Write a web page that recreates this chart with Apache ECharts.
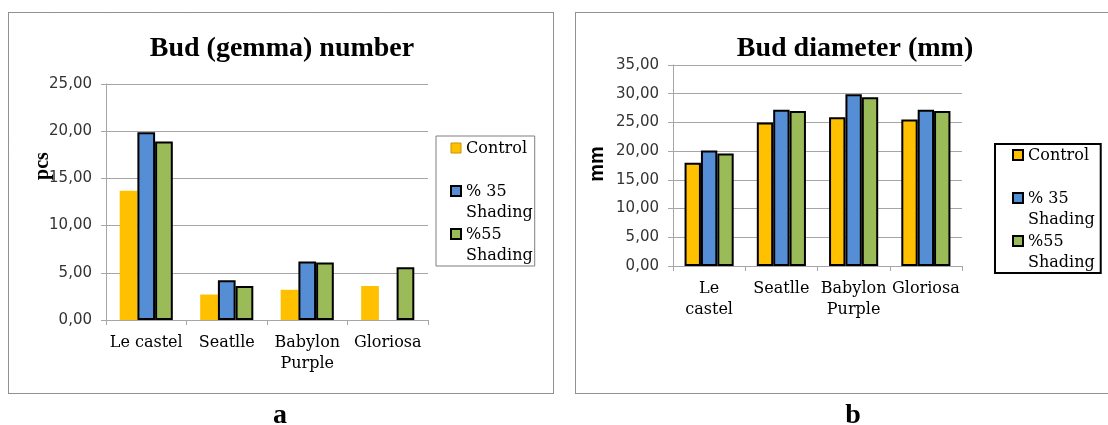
<!DOCTYPE html>
<html>
<head>
<meta charset="utf-8">
<script src="https://cdn.jsdelivr.net/npm/echarts@6/dist/echarts.min.js"></script>
<style>
  html, body { margin: 0; padding: 0; background: #fff; }
  #chart { width: 1108px; height: 425px; }
</style>
</head>
<body>
<div id="chart"></div>
<script>
// categories and values
var categories = ['Le castel', 'Seatlle', 'Babylon Purple', 'Gloriosa'];
var seriesNames = ['Control', '% 35 Shading', '%55 Shading'];

var budNumberControl = [13.7, 2.7, 3.2, 3.6];
var budNumber35 = [19.9, 4.2, 6.2, 0];
var budNumber55 = [18.9, 3.6, 6.1, 5.6];

var budDiameterControl = [18.0, 25.0, 25.9, 25.5];
var budDiameter35 = [20.1, 27.2, 29.9, 27.2];
var budDiameter55 = [19.6, 27.0, 29.4, 27.0];

var numberAxis = { min: 0, max: 25, step: 5 };
var diameterAxis = { min: 0, max: 35, step: 5 };

var COLORS = ['#FFC000', '#558ED5', '#9BBB59'];
// square on top, empty space below so the icon lines up with the first text line
var ICON = 'path://M0,0h10v10h-10z M0,32';

function comma(v) { return Number(v).toFixed(2).replace('.', ','); }

function barData(values) {
  return values.map(function (v) {
    return v === 0 ? { value: v, itemStyle: { borderWidth: 0 } } : v;
  });
}

function bars(idx, values, i, border) {
  return {
    type: 'bar', name: seriesNames[i],
    xAxisIndex: idx, yAxisIndex: idx,
    data: barData(values),
    barGap: '0%', barCategoryGap: idx === 0 ? '34%' : '32%',
    itemStyle: { color: COLORS[i], borderColor: '#000', borderWidth: border },
    emphasis: { disabled: true }
  };
}

function legendNames(name) {
  if (name === 'Control') return 'Control\n ';
  return name.replace(' Shading', '\nShading');
}

var gridLine = '#a6a6a6';
var tickFont = { color: '#333', fontFamily: 'DejaVu Sans', fontSize: 15 };
var catFont = { color: '#000', fontFamily: 'DejaVu Serif', fontSize: 16, lineHeight: 21 };
var legendFont = { color: '#000', fontFamily: 'DejaVu Serif', fontSize: 16, lineHeight: 21 };
var titleFont = { color: '#000', fontFamily: 'Liberation Serif', fontWeight: 'bold', fontSize: 28 };

function xAxis(idx, fmt) {
  return {
    type: 'category', gridIndex: idx, data: categories,
    axisLine: { lineStyle: { color: gridLine, width: 1 } },
    axisTick: { show: true, length: 5, lineStyle: { color: gridLine } },
    axisLabel: Object.assign({ interval: 0, margin: 12, formatter: fmt }, catFont),
    splitLine: { show: false }
  };
}

function yAxis(idx, ax) {
  return {
    type: 'value', gridIndex: idx, min: ax.min, max: ax.max, interval: ax.step,
    axisLine: { show: true, lineStyle: { color: gridLine, width: 1 } },
    axisTick: { show: true, length: 5, lineStyle: { color: gridLine } },
    axisLabel: Object.assign({ margin: 14, formatter: comma }, tickFont),
    splitLine: { lineStyle: { color: gridLine, width: 1 } }
  };
}

function legend(opts) {
  return Object.assign({
    orient: 'vertical',
    icon: ICON, itemWidth: 10, itemHeight: 32, itemGap: 1,
    backgroundColor: '#fff',
    selectedMode: false,
    textStyle: legendFont,
    formatter: legendNames
  }, opts);
}

var chart = echarts.init(document.getElementById('chart'), null, { renderer: 'canvas' });

chart.setOption({
  backgroundColor: '#fff',
  animation: false,
  title: [
    { text: 'Bud (gemma) number', left: 277, top: 30, textAlign: 'center', textStyle: titleFont },
    { text: 'Bud diameter (mm)', left: 850, top: 30, textAlign: 'center', textStyle: titleFont },
    { text: 'a', left: 275, top: 397, textAlign: 'center', textStyle: titleFont },
    { text: 'b', left: 848, top: 397, textAlign: 'center', textStyle: titleFont }
  ],
  grid: [
    { left: 106, top: 84, width: 322, height: 236 },
    { left: 673, top: 65, width: 289, height: 201 }
  ],
  xAxis: [
    xAxis(0, function (v) { return v.replace('Babylon ', 'Babylon\n'); }),
    xAxis(1, function (v) { return v.replace(' ', '\n'); })
  ],
  yAxis: [yAxis(0, numberAxis), yAxis(1, diameterAxis)],
  legend: [
    legend({
      left: 436, top: 136, padding: [2, 2, 0, 14],
      borderColor: '#7f7f7f', borderWidth: 1,
      data: [
        { name: seriesNames[0], itemStyle: { borderColor: '#c79500', borderWidth: 1 } },
        { name: seriesNames[1], itemStyle: { borderColor: '#000', borderWidth: 2 } },
        { name: seriesNames[2], itemStyle: { borderColor: '#000', borderWidth: 2 } }
      ]
    }),
    legend({
      left: 995, top: 144, padding: [1, 6, 0, 17],
      borderColor: '#000', borderWidth: 2,
      data: seriesNames.map(function (n) {
        return { name: n, itemStyle: { borderColor: '#000', borderWidth: 2 } };
      })
    })
  ],
  graphic: [
    { type: 'rect', silent: true, shape: { x: 8.5, y: 12.5, width: 545, height: 381 },
      style: { fill: null, stroke: '#222', lineWidth: 1, lineDash: [1, 1] } },
    { type: 'rect', silent: true, shape: { x: 575.5, y: 12.5, width: 540, height: 381 },
      style: { fill: null, stroke: '#222', lineWidth: 1, lineDash: [1, 1] } },
    { type: 'text', silent: true, x: 43, y: 166, rotation: Math.PI / 2,
      style: { text: 'pcs', align: 'center', verticalAlign: 'middle', fill: '#000',
        font: 'bold 20px "Liberation Serif"' } },
    { type: 'text', silent: true, x: 597, y: 164, rotation: Math.PI / 2,
      style: { text: 'mm', align: 'center', verticalAlign: 'middle', fill: '#000',
        font: 'bold 20px "Liberation Sans"' } }
  ],
  series: [
    bars(0, budNumberControl, 0, 0),
    bars(0, budNumber35, 1, 2),
    bars(0, budNumber55, 2, 2),
    bars(1, budDiameterControl, 0, 2),
    bars(1, budDiameter35, 1, 2),
    bars(1, budDiameter55, 2, 2)
  ]
});
</script>
</body>
</html>
